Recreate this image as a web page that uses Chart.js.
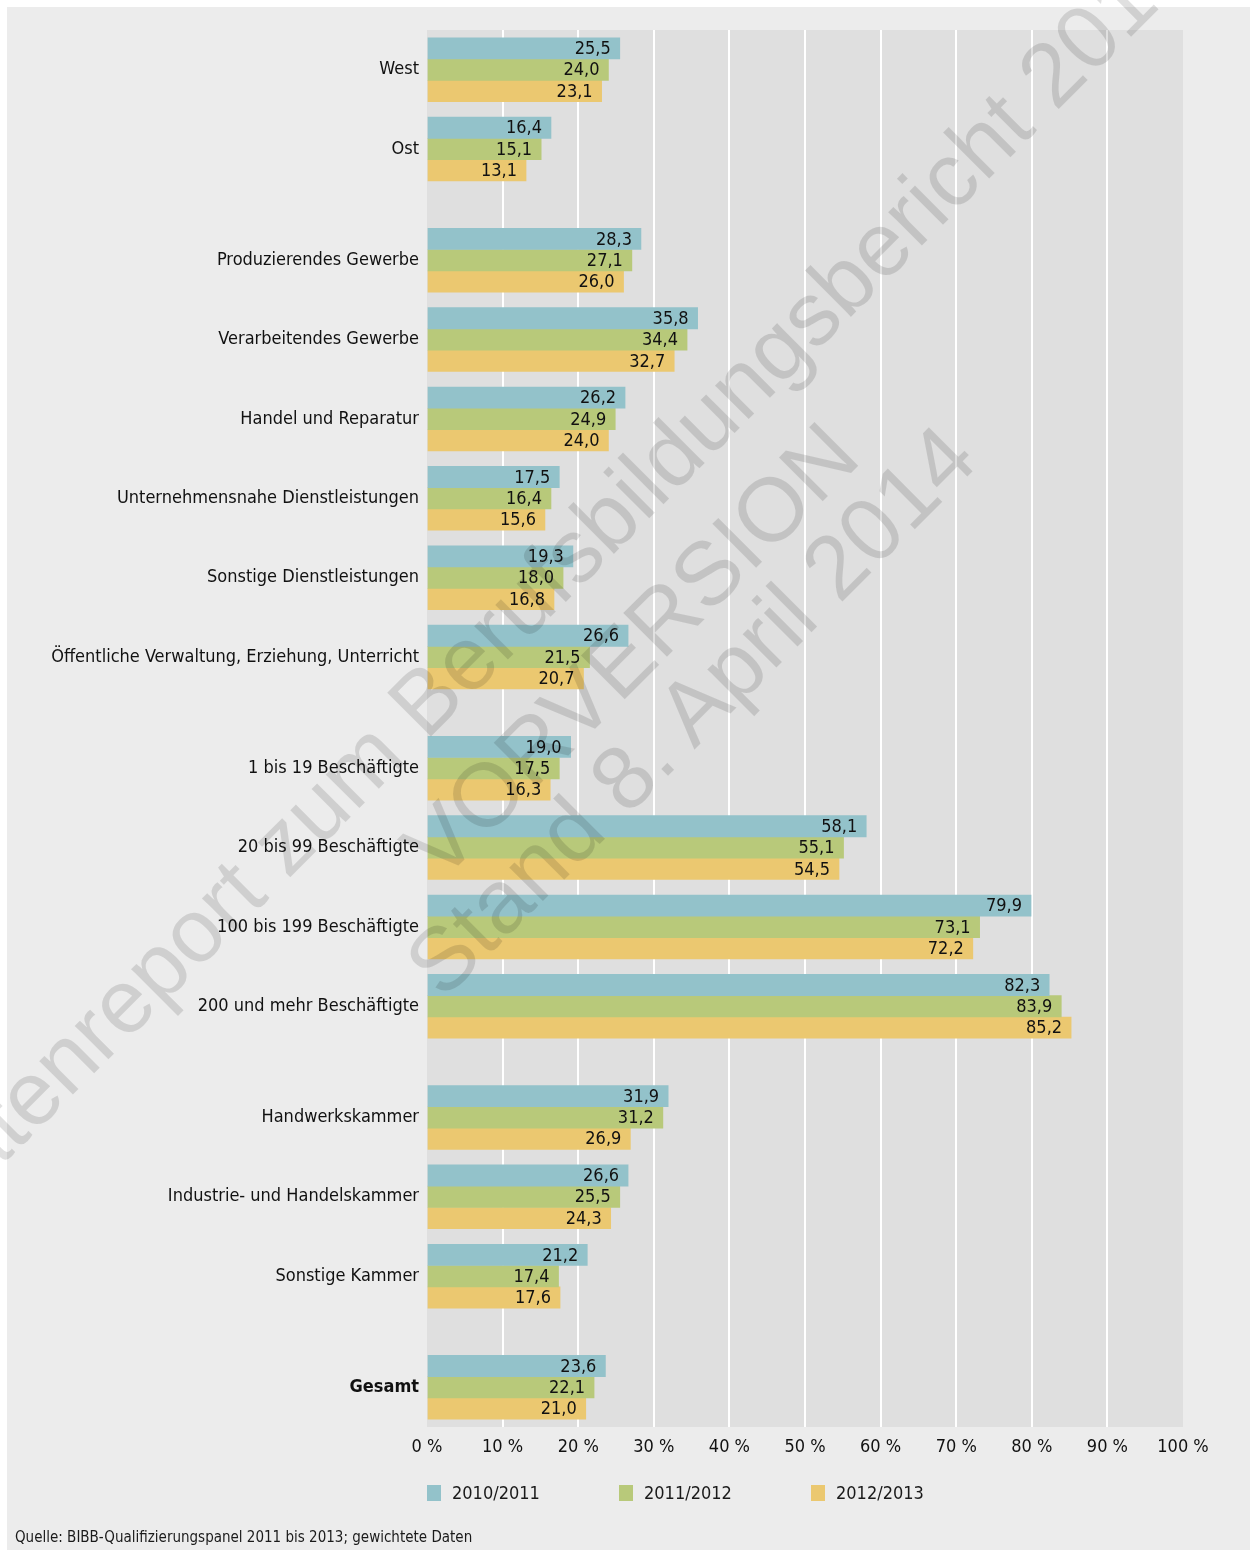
<!DOCTYPE html>
<html>
<head>
<meta charset="utf-8">
<script src="https://cdn.jsdelivr.net/npm/chart.js@4.4.1/dist/chart.umd.min.js"></script>
<style>
  body { margin: 0; background: #fff; font-family: "Liberation Sans Narrow", "DejaVu Sans Condensed", "Roboto", sans-serif; }
  #wrap { position: absolute; left: 0; top: 0; width: 1250px; height: 1550px; overflow: hidden; }
  #bg { position: absolute; left: 7px; top: 7px; right: 0; bottom: 0; background: #ececec; }
  canvas { position: absolute; left: 0; top: 0; }
  #legend { position: absolute; left: 427px; top: 1482px; display: flex; font-size: 18px; color: #1a1a1a; }
  #legend .item { width: 192px; display: flex; align-items: center; }
  #legend .box { width: 14px; height: 16px; margin-right: 11px; }
  #source { position: absolute; left: 15px; top: 1528px; font-size: 15px; color: #1a1a1a; }
  #mark { position: absolute; left: 0; top: 0; width: 1250px; height: 1550px; pointer-events: none; }
  #mark div { position: absolute; white-space: nowrap; font-family: "Liberation Sans", Arial, sans-serif;
    font-size: 90px; color: rgba(0,0,0,0.12); transform-origin: center center; }
</style>
</head>
<body>
<div id="wrap">
  <div id="bg"></div>
  <canvas id="myChart" width="1250" height="1550"></canvas>
  <div id="legend"></div>
  <div id="source">Quelle: BIBB-Qualifizierungspanel 2011 bis 2013; gewichtete Daten</div>
  <div id="mark"></div>
</div>
<script>
// categories, split into the visual groups of the original
const groupSizes = [2, 6, 4, 3, 1];
const categories = [
  'West', 'Ost',
  'Produzierendes Gewerbe', 'Verarbeitendes Gewerbe', 'Handel und Reparatur',
  'Unternehmensnahe Dienstleistungen', 'Sonstige Dienstleistungen',
  'Öffentliche Verwaltung, Erziehung, Unterricht',
  '1 bis 19 Beschäftigte', '20 bis 99 Beschäftigte', '100 bis 199 Beschäftigte', '200 und mehr Beschäftigte',
  'Handwerkskammer', 'Industrie- und Handelskammer', 'Sonstige Kammer',
  'Gesamt'
];
const seriesNames = ['2010/2011', '2011/2012', '2012/2013'];
const values2010 = [25.5, 16.4, 28.3, 35.8, 26.2, 17.5, 19.3, 26.6, 19.0, 58.1, 79.9, 82.3, 31.9, 26.6, 21.2, 23.6];
const values2011 = [24.0, 15.1, 27.1, 34.4, 24.9, 16.4, 18.0, 21.5, 17.5, 55.1, 73.1, 83.9, 31.2, 25.5, 17.4, 22.1];
const values2012 = [23.1, 13.1, 26.0, 32.7, 24.0, 15.6, 16.8, 20.7, 16.3, 54.5, 72.2, 85.2, 26.9, 24.3, 17.6, 21.0];
const xTicks = [0, 10, 20, 30, 40, 50, 60, 70, 80, 90, 100];

const colors = ['#93c2ca', '#b8c97a', '#ebc870'];
const FONT = '"Liberation Sans Narrow", "DejaVu Sans Condensed", "Roboto", sans-serif';

// slot index per category, with a smaller gap between groups
const GAP = 0.4;
const slots = [];
let s = 0;
groupSizes.forEach(n => {
  for (let i = 0; i < n; i++) { slots.push(s); s += 1; }
  s += GAP;
});

const fmt = v => v.toFixed(1).replace('.', ',');

const plotBg = {
  id: 'plotBg',
  beforeDraw(chart) {
    const { ctx, chartArea: a } = chart;
    ctx.save();
    ctx.fillStyle = '#dfdfdf';
    ctx.fillRect(a.left, a.top, a.right - a.left, a.bottom - a.top);
    ctx.restore();
  }
};

const valueLabels = {
  id: 'valueLabels',
  afterDatasetsDraw(chart) {
    const ctx = chart.ctx;
    ctx.save();
    ctx.font = '18px ' + FONT;
    ctx.fillStyle = '#111';
    ctx.textAlign = 'right';
    ctx.textBaseline = 'middle';
    chart.data.datasets.forEach((ds, di) => {
      chart.getDatasetMeta(di).data.forEach((bar, i) => {
        ctx.fillText(fmt(ds.data[i].x), bar.x - 9, bar.y + 1);
      });
    });
    ctx.restore();
  }
};

const mk = vals => vals.map((v, i) => ({ x: v, y: slots[i] }));

const ctx = document.getElementById('myChart');
new Chart(ctx, {
  type: 'bar',
  data: {
    datasets: [
      { label: seriesNames[0], data: mk(values2010), backgroundColor: colors[0] },
      { label: seriesNames[1], data: mk(values2011), backgroundColor: colors[1] },
      { label: seriesNames[2], data: mk(values2012), backgroundColor: colors[2] }
    ]
  },
  options: {
    indexAxis: 'y',
    responsive: false,
    animation: false,
    barThickness: 21.3,
    layout: { padding: { left: 0, right: 67, top: 30, bottom: 83 } },
    plugins: { legend: { display: false }, tooltip: { enabled: false } },
    scales: {
      x: {
        type: 'linear',
        min: 0, max: 100,
        bounds: 'data',
        afterBuildTicks: sc => { sc.ticks = xTicks.map(v => ({ value: v })); },
        afterFit: sc => { sc.height = 40; },
        border: { display: false },
        grid: {
          drawTicks: false,
          lineWidth: 2,
          color: c => (c.tick && (c.tick.value === 0 || c.tick.value === 100)) ? 'rgba(0,0,0,0)' : '#ffffff'
        },
        ticks: {
          padding: 10,
          color: '#111',
          font: { family: FONT, size: 18 },
          callback: v => v + ' %'
        }
      },
      y: {
        type: 'linear',
        reverse: true,
        offset: false,
        bounds: 'data',
        min: -0.5,
        max: slots[slots.length - 1] + 0.5,
        afterDataLimits: sc => { sc.min = -0.5; sc.max = slots[slots.length - 1] + 0.5; },
        afterBuildTicks: sc => {
          sc.ticks = slots.map(v => ({ value: v }));
          sc.min = -0.5; sc.max = slots[slots.length - 1] + 0.5;
        },
        afterFit: sc => { sc.width = 427; },
        border: { display: false },
        grid: { display: false, drawTicks: false },
        ticks: {
          padding: 8,
          color: '#111',
          autoSkip: false,
          font: c => ({ family: FONT, size: 18, weight: categories[c.index] === 'Gesamt' ? 'bold' : 'normal' }),
          callback: (v, i) => categories[i]
        }
      }
    }
  },
  plugins: [plotBg, valueLabels]
});

// legend
const legend = document.getElementById('legend');
seriesNames.forEach((n, i) => {
  const it = document.createElement('div');
  it.className = 'item';
  it.innerHTML = '<span class="box" style="background:' + colors[i] + '"></span><span>' + n + '</span>';
  legend.appendChild(it);
});

// watermark, three lines rotated by 45 degrees
const markLines = ['Datenreport zum Berufsbildungsbericht 2014', 'VORVERSION', 'Stand 8. April 2014'];
const markOffsets = [-110, 0, 85];
const markShift = [-12, 0, 0];
const mark = document.getElementById('mark');
const cx = 630, cy = 650;
markLines.forEach((t, i) => {
  const d = document.createElement('div');
  d.textContent = t;
  mark.appendChild(d);
  const w = d.offsetWidth, h = d.offsetHeight;
  const px = cx + Math.SQRT1_2 * (markOffsets[i] + markShift[i]);
  const py = cy + Math.SQRT1_2 * (markOffsets[i] - markShift[i]);
  d.style.left = (px - w / 2) + 'px';
  d.style.top = (py - h / 2) + 'px';
  d.style.transform = 'rotate(-45deg)';
});
</script>
</body>
</html>
